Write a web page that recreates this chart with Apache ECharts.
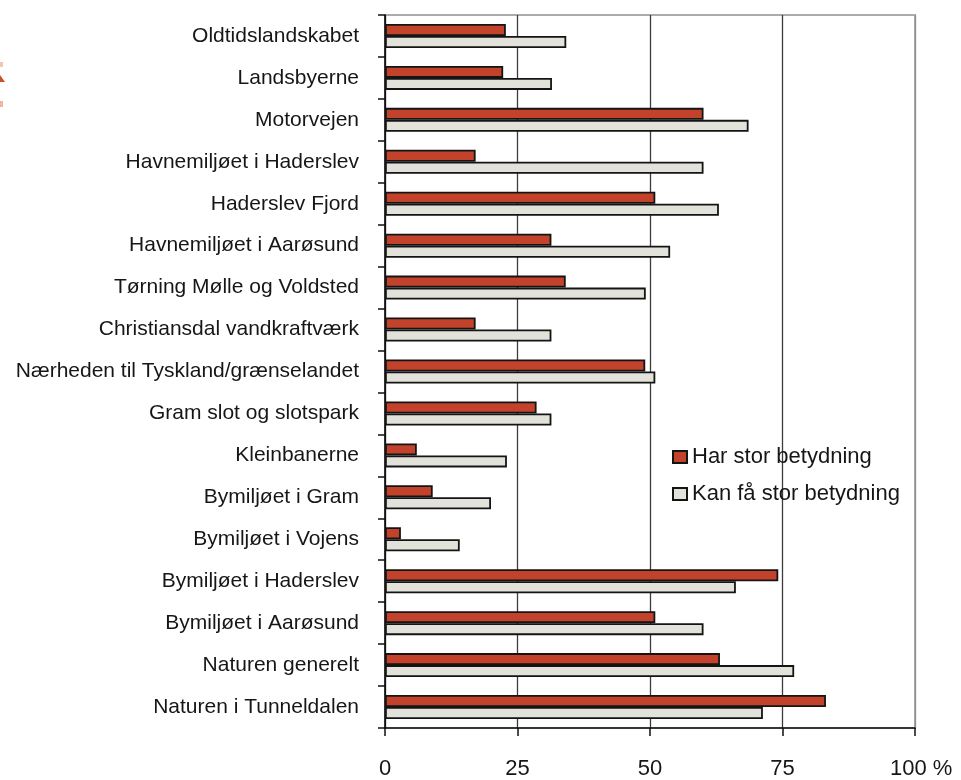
<!DOCTYPE html>
<html>
<head>
<meta charset="utf-8">
<script src="https://cdn.jsdelivr.net/npm/echarts@6/dist/echarts.min.js"></script>
<style>
    html, body { margin: 0; padding: 0; background: #fff; }
    #chart { width: 961px; height: 780px; }
</style>
</head>
<body>
<div id="chart"></div>
<script>
// kategorier (fra top til bund)
var categories = [
    'Oldtidslandskabet',
    'Landsbyerne',
    'Motorvejen',
    'Havnemiljøet i Haderslev',
    'Haderslev Fjord',
    'Havnemiljøet i Aarøsund',
    'Tørning Mølle og Voldsted',
    'Christiansdal vandkraftværk',
    'Nærheden til Tyskland/grænselandet',
    'Gram slot og slotspark',
    'Kleinbanerne',
    'Bymiljøet i Gram',
    'Bymiljøet i Vojens',
    'Bymiljøet i Haderslev',
    'Bymiljøet i Aarøsund',
    'Naturen generelt',
    'Naturen i Tunneldalen'
];

// procent
var harStor = [22.8, 22.3, 60.1, 17.1, 51.0, 31.4, 34.1, 17.1, 49.1, 28.6, 6.0, 9.0, 3.0, 74.2, 51.0, 63.2, 83.2];
var kanFaa = [34.2, 31.5, 68.6, 60.1, 63.0, 53.8, 49.2, 31.4, 51.0, 31.4, 23.0, 20.0, 14.1, 66.2, 60.1, 77.2, 71.3];

var xTicks = [0, 25, 50, 75, 100];

var seriesNames = ['Har stor betydning', 'Kan få stor betydning'];

var fontName = '"Liberation Sans", Arial, sans-serif';
var textColor = '#161616';

var myChart = echarts.init(document.getElementById('chart'), null, {renderer: 'canvas'});

var option = {
    animation: false,
    backgroundColor: '#fff',
    textStyle: {fontFamily: fontName},
    // rest af logo i venstre kant
    graphic: [
        {type: 'polygon', shape: {points: [[0, 75], [5, 82], [0, 82]]}, style: {fill: '#c8502c'}},
        {type: 'rect', shape: {x: 0, y: 62, width: 3, height: 5}, style: {fill: '#f2c6b2'}},
        {type: 'rect', shape: {x: 0, y: 101, width: 3, height: 6}, style: {fill: '#eeb79f'}}
    ],
    grid: {
        left: 385,
        right: 46,
        top: 15,
        bottom: 50,
        show: true,
        borderColor: '#ababab',
        borderWidth: 2
    },
    legend: {
        data: seriesNames,
        orient: 'vertical',
        left: 667,
        top: 440,
        icon: 'rect',
        itemWidth: 14,
        itemHeight: 12,
        itemGap: 13,
        textStyle: {
            fontSize: 22,
            lineHeight: 24,
            color: textColor,
            fontFamily: fontName
        }
    },
    xAxis: {
        type: 'value',
        min: xTicks[0],
        max: xTicks[xTicks.length - 1],
        interval: 25,
        axisLine: {show: true, lineStyle: {color: '#111', width: 1.5}},
        axisTick: {show: true, length: 8, lineStyle: {color: '#111', width: 1.5}},
        axisLabel: {
            fontSize: 22,
            color: textColor,
            margin: 30,
            formatter: function (v) {
                return v === 100 ? '  100 %' : String(v);
            }
        },
        splitLine: {
            show: true,
            lineStyle: {
                color: ['#111', '#3c3c3c', '#3c3c3c', '#3c3c3c', '#8e8e8e'],
                width: 1.3
            }
        }
    },
    yAxis: {
        type: 'category',
        data: categories,
        inverse: true,
        axisLine: {show: true, lineStyle: {color: '#111', width: 1.5}},
        axisTick: {show: true, length: 7, lineStyle: {color: '#111', width: 1.5}},
        axisLabel: {
            fontSize: 21,
            color: textColor,
            margin: 26
        }
    },
    series: [
        {
            name: seriesNames[0],
            type: 'bar',
            data: harStor,
            barWidth: 12,
            barGap: '0%',
            itemStyle: {
                color: '#c3422c',
                borderColor: '#141414',
                borderWidth: 1.8
            }
        },
        {
            name: seriesNames[1],
            type: 'bar',
            data: kanFaa,
            barWidth: 12,
            barGap: '0%',
            itemStyle: {
                color: '#e2e2da',
                borderColor: '#141414',
                borderWidth: 1.8
            }
        }
    ]
};

myChart.setOption(option);
</script>
</body>
</html>
